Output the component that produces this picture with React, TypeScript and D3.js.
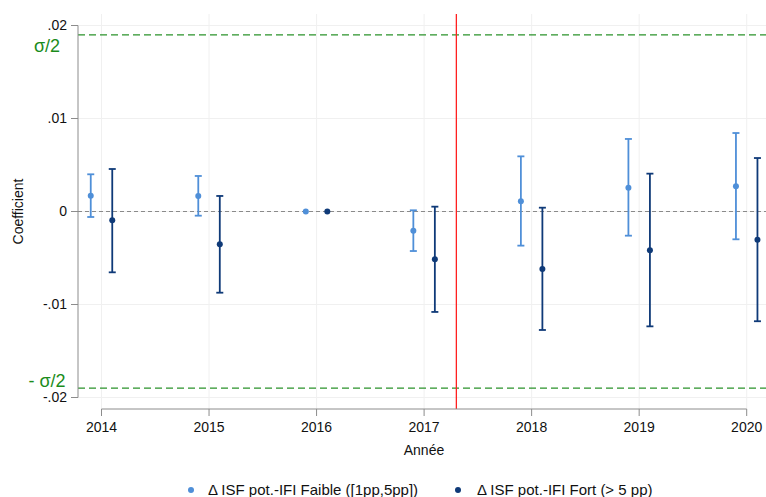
import React from "react";
import * as d3 from "d3";

const years = [2014, 2015, 2016, 2017, 2018, 2019, 2020];
const faibleCoef = [0.0017, 0.00167, 0, -0.00206, 0.0011, 0.00256, 0.00271];
const faibleLo = [-0.00059, -0.00045, 0, -0.00425, -0.00367, -0.0026, -0.00299];
const faibleHi = [0.004, 0.00382, 0, 0.00013, 0.00593, 0.0078, 0.00844];
const fortCoef = [-0.00095, -0.00353, 0, -0.00514, -0.00618, -0.00418, -0.00303];
const fortLo = [-0.00654, -0.00873, 0, -0.0108, -0.01274, -0.01235, -0.0118];
const fortHi = [0.00457, 0.00167, 0, 0.00052, 0.00041, 0.00407, 0.00575];
const yTicks = [0.02, 0.01, 0, -0.01, -0.02];
const yTickLabels = [".02", ".01", "0", "-.01", "-.02"];
const sigmaHalf = 0.019;
const reformYear = 2017.3;
const legendLabels = ["Δ ISF pot.-IFI Faible ([1pp,5pp])", "Δ ISF pot.-IFI Fort (> 5 pp)"];

const W = 766;
const H = 497;
const LIGHT = "#4f8fd8";
const DARK = "#0f3a78";
const GREEN_LINE = "#2b922b";
const GREEN_TEXT = "#1b8c1b";
const FONT = "'Liberation Sans', Arial, sans-serif";

export default function App() {
  const x = d3.scaleLinear().domain([2014, 2020]).range([101.5, 746.7]);
  const y = d3.scaleLinear().domain([-0.02, 0.02]).range([397.5, 25.5]);
  const plotLeft = 78;
  const plotRight = 766;
  const plotTop = 14;
  const plotBottom = 409;
  const off = 0.1;
  const cap = 3.5;

  const series = [
    { coef: faibleCoef, lo: faibleLo, hi: faibleHi, color: LIGHT, dx: -off },
    { coef: fortCoef, lo: fortLo, hi: fortHi, color: DARK, dx: off },
  ];

  return (
    <svg width={W} height={H} style={{ position: "absolute", left: 0, top: 0, background: "#fff" }} fontFamily={FONT}>
      <rect x={0} y={0} width={W} height={H} fill="#fff" />
      {/* grid */}
      {yTicks.map((t, i) => (
        <line key={"hg" + i} x1={plotLeft} x2={plotRight} y1={y(t)} y2={y(t)} stroke="#f0f0f0" strokeWidth={1} />
      ))}
      {years.map((yr) => (
        <line key={"vg" + yr} x1={x(yr)} x2={x(yr)} y1={plotTop} y2={plotBottom} stroke="#f0f0f0" strokeWidth={1} />
      ))}
      {/* zero line */}
      <line x1={plotLeft} x2={plotRight} y1={y(0)} y2={y(0)} stroke="#8a8a8a" strokeWidth={1.2} strokeDasharray="4,3" />
      {/* sigma lines */}
      <line x1={plotLeft} x2={plotRight} y1={y(sigmaHalf)} y2={y(sigmaHalf)} stroke={GREEN_LINE} strokeWidth={1.3} strokeDasharray="7,4" />
      <line x1={plotLeft} x2={plotRight} y1={y(-sigmaHalf)} y2={y(-sigmaHalf)} stroke={GREEN_LINE} strokeWidth={1.3} strokeDasharray="7,4" />
      {/* reform line */}
      <line x1={x(reformYear)} x2={x(reformYear)} y1={plotTop} y2={plotBottom} stroke="#ff2020" strokeWidth={1.3} />
      {/* error bars */}
      {series.map((s, si) =>
        years.map((yr, i) => {
          const cx = x(yr + s.dx);
          const hasCI = s.hi[i] !== s.lo[i];
          return (
            <g key={si + "-" + yr}>
              {hasCI && (
                <>
                  <line x1={cx} x2={cx} y1={y(s.hi[i])} y2={y(s.lo[i])} stroke={s.color} strokeWidth={1.8} />
                  <line x1={cx - cap} x2={cx + cap} y1={y(s.hi[i])} y2={y(s.hi[i])} stroke={s.color} strokeWidth={1.8} />
                  <line x1={cx - cap} x2={cx + cap} y1={y(s.lo[i])} y2={y(s.lo[i])} stroke={s.color} strokeWidth={1.8} />
                </>
              )}
              <circle cx={cx} cy={y(s.coef[i])} r={3} fill={s.color} />
            </g>
          );
        })
      )}
      {/* y axis */}
      <line x1={plotLeft} x2={plotLeft} y1={y(0.02)} y2={y(-0.02)} stroke="#8c8c8c" strokeWidth={1} />
      {yTicks.map((t, i) => (
        <g key={"yt" + i}>
          <line x1={plotLeft - 7} x2={plotLeft} y1={y(t)} y2={y(t)} stroke="#8c8c8c" strokeWidth={1} />
          <text x={plotLeft - 11} y={y(t)} dy="0.35em" textAnchor="end" fontSize={14} fill="#111">
            {yTickLabels[i]}
          </text>
        </g>
      ))}
      {/* x axis */}
      <line x1={x(2014)} x2={x(2020)} y1={plotBottom} y2={plotBottom} stroke="#8c8c8c" strokeWidth={1} />
      {years.map((yr) => (
        <g key={"xt" + yr}>
          <line x1={x(yr)} x2={x(yr)} y1={plotBottom} y2={plotBottom + 7} stroke="#8c8c8c" strokeWidth={1} />
          <text x={x(yr)} y={plotBottom + 23} textAnchor="middle" fontSize={14} fill="#111">
            {yr}
          </text>
        </g>
      ))}
      {/* sigma labels */}
      <text x={47} y={52} textAnchor="middle" fontSize={18} fill={GREEN_TEXT}>σ/2</text>
      <text x={47} y={386.5} textAnchor="middle" fontSize={18} fill={GREEN_TEXT}>- σ/2</text>
      {/* axis titles */}
      <text transform={`translate(23, ${y(0)}) rotate(-90)`} textAnchor="middle" fontSize={14} fill="#111">Coefficient</text>
      <text x={424} y={455} textAnchor="middle" fontSize={14} fill="#111">Année</text>
      {/* legend */}
      <circle cx={191} cy={490} r={3} fill={LIGHT} />
      <text x={208} y={495} fontSize={15} fill="#111">{legendLabels[0]}</text>
      <circle cx={458} cy={490} r={3} fill={DARK} />
      <text x={477} y={495} fontSize={15} fill="#111">{legendLabels[1]}</text>
    </svg>
  );
}
